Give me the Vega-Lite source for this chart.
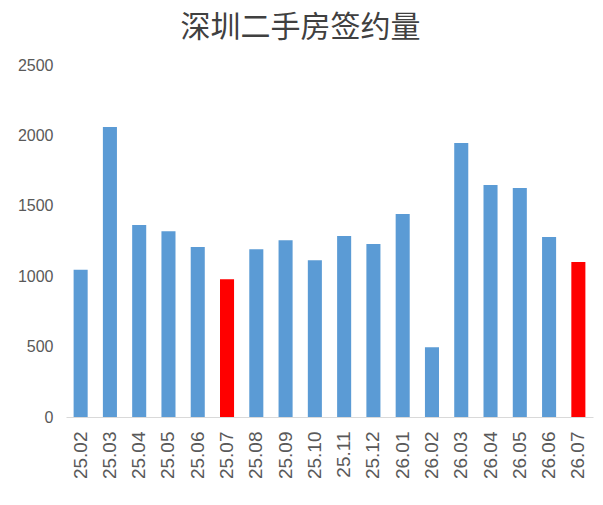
{
  "$schema": "https://vega.github.io/schema/vega-lite/v6.json",
  "autosize": "none",
  "width": 527,
  "height": 352,
  "padding": {"left": 66, "top": 65, "right": 10, "bottom": 88},
  "background": "white",
  "config": {"view": {"stroke": null}},
  "title": {
    "text": "深圳二手房签约量",
    "font": "Noto Sans CJK SC",
    "fontSize": 30,
    "fontWeight": "normal",
    "color": "#404040",
    "anchor": "middle",
    "dx": -29,
    "offset": 14
  },
  "data": {
    "values": [
      {"month": "25.02", "value": 1045},
      {"month": "25.03", "value": 2060},
      {"month": "25.04", "value": 1363},
      {"month": "25.05", "value": 1320},
      {"month": "25.06", "value": 1207},
      {"month": "25.07", "value": 979},
      {"month": "25.08", "value": 1192},
      {"month": "25.09", "value": 1256},
      {"month": "25.10", "value": 1114},
      {"month": "25.11", "value": 1285},
      {"month": "25.12", "value": 1228},
      {"month": "26.01", "value": 1441},
      {"month": "26.02", "value": 496},
      {"month": "26.03", "value": 1946},
      {"month": "26.04", "value": 1647},
      {"month": "26.05", "value": 1626},
      {"month": "26.06", "value": 1278},
      {"month": "26.07", "value": 1100}
    ]
  },
  "mark": {"type": "bar"},
  "encoding": {
    "x": {
      "field": "month",
      "type": "nominal",
      "sort": null,
      "scale": {"paddingInner": 0.52, "paddingOuter": 0.26},
      "axis": {
        "title": null,
        "labelAngle": -90,
        "labelAlign": "right",
        "labelBaseline": "middle",
        "labelFont": "Liberation Sans",
        "labelFontSize": 19,
        "labelColor": "#595959",
        "labelPadding": 14,
        "ticks": false,
        "domainColor": "#D9D9D9",
        "domainWidth": 1
      }
    },
    "y": {
      "field": "value",
      "type": "quantitative",
      "scale": {"domain": [0, 2500]},
      "axis": {
        "title": null,
        "values": [0, 500, 1000, 1500, 2000, 2500],
        "format": "d",
        "grid": false,
        "domain": false,
        "ticks": false,
        "labelFont": "Liberation Sans",
        "labelFontSize": 16,
        "labelColor": "#595959",
        "labelPadding": 13
      }
    },
    "color": {
      "condition": {"test": "datum.month === '25.07' || datum.month === '26.07'", "value": "#FF0000"},
      "value": "#5B9BD5"
    }
  }
}
